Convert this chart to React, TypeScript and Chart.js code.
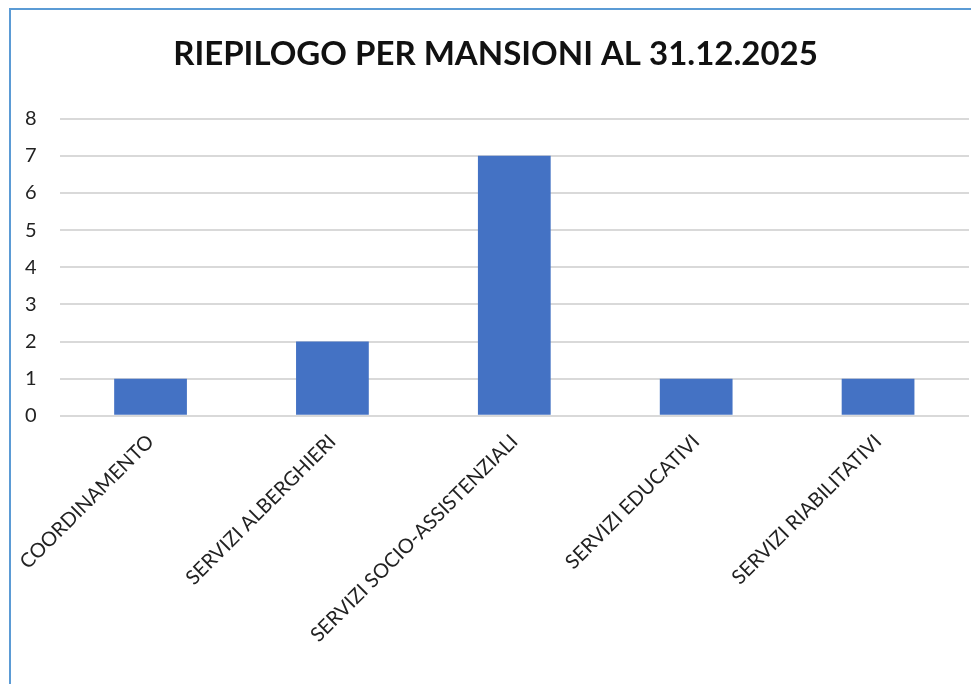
import React, { useEffect, useRef } from "react";
import { Chart, registerables } from "chart.js";

Chart.register(...registerables);

const TITLE = "RIEPILOGO PER MANSIONI AL 31.12.2025";
const categories = [
  "COORDINAMENTO",
  "SERVIZI ALBERGHIERI",
  "SERVIZI SOCIO-ASSISTENZIALI",
  "SERVIZI EDUCATIVI",
  "SERVIZI RIABILITATIVI",
];
const values = [1, 2, 7, 1, 1];
const yTicks = [0, 1, 2, 3, 4, 5, 6, 7, 8];

const FONT = "Lato, 'Open Sans', sans-serif";

const titleShift = {
  id: "titleShift",
  afterLayout(chart: any) {
    const t = chart.titleBlock;
    if (t) {
      t.left += 10;
      t.right += 10;
    }
  },
};

export default function App() {
  const ref = useRef<HTMLCanvasElement | null>(null);
  useEffect(() => {
    if (!ref.current) return;
    const chart = new Chart(ref.current, {
      type: "bar",
      data: {
        labels: categories,
        datasets: [
          {
            data: values,
            backgroundColor: "#4472C4",
            borderWidth: 0,
            barPercentage: 0.4,
            categoryPercentage: 1,
          },
        ],
      },
      options: {
        animation: false,
        responsive: false,
        maintainAspectRatio: false,
        layout: { padding: { left: 2, right: 2, top: 0, bottom: 31 } },
        plugins: {
          legend: { display: false },
          tooltip: { enabled: false },
          title: {
            display: true,
            text: TITLE,
            color: "#111",
            font: { family: FONT, size: 33, weight: "bold" },
            padding: { top: 35, bottom: 44 },
          },
        },
        scales: {
          x: {
            grid: { display: false },
            border: { display: false },
            ticks: {
              color: "#222",
              font: { family: FONT, size: 20 },
              minRotation: 45,
              maxRotation: 45,
              autoSkip: false,
              padding: 6,
            },
          },
          y: {
            min: yTicks[0],
            max: yTicks[yTicks.length - 1],
            afterBuildTicks: (axis: any) => {
              axis.ticks = yTicks.map((v) => ({ value: v }));
            },
            grid: { color: "#D9D9D9", lineWidth: 2, drawTicks: false },
            border: { display: false },
            ticks: {
              color: "#222",
              font: { family: FONT, size: 20 },
              padding: 23,
            },
          },
        },
      },
      plugins: [titleShift],
    });
    return () => chart.destroy();
  }, []);
  return (
    <div
      style={{
        position: "fixed",
        left: 0,
        top: 0,
        width: 971,
        height: 684,
        background: "#fff",
        overflow: "hidden",
      }}
    >
      <canvas
        ref={ref}
        width={971}
        height={684}
        style={{ position: "absolute", left: 0, top: 0, width: 971, height: 684 }}
      />
      <div
        style={{
          position: "absolute",
          left: 9,
          top: 8,
          width: 980,
          height: 700,
          borderLeft: "2px solid #5B9BD5",
          borderTop: "2px solid #5B9BD5",
          pointerEvents: "none",
        }}
      />
    </div>
  );
}
